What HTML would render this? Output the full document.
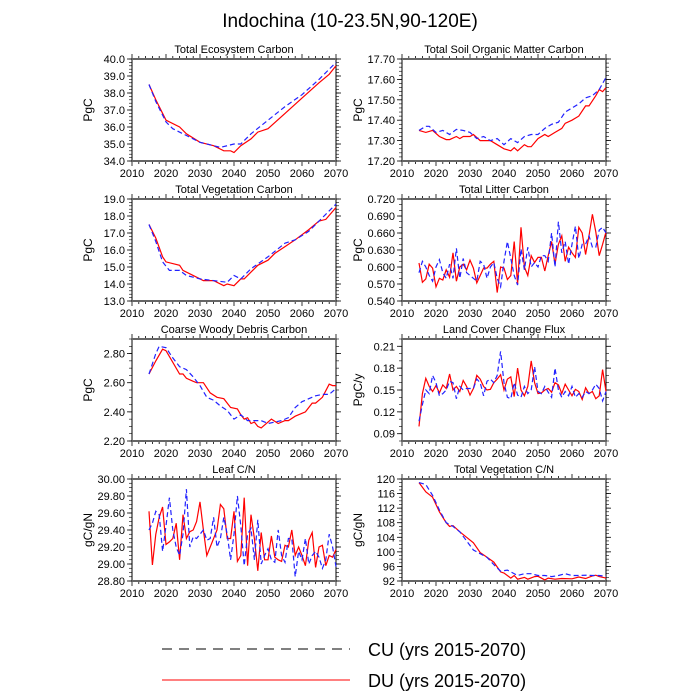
<!DOCTYPE html>
<html><head><meta charset="utf-8"><style>
html,body{margin:0;padding:0;background:#fff;}
svg{display:block;font-family:"Liberation Sans",sans-serif;}
</style></head><body>
<svg id="chart" width="700" height="700" viewBox="0 0 700 700" xmlns="http://www.w3.org/2000/svg">
<text x="350" y="27" font-size="19" text-anchor="middle">Indochina (10-23.5N,90-120E)</text>
<g>
<line x1="162" y1="649" x2="350" y2="649" stroke="#000" stroke-width="1" stroke-dasharray="10,7"/>
<text x="368" y="656" font-size="18">CU (yrs 2015-2070)</text>
<line x1="162" y1="680" x2="350" y2="680" stroke="#f00" stroke-width="1"/>
<text x="368" y="687" font-size="18">DU (yrs 2015-2070)</text>
</g>
</svg>
<script>
// ---- data ----
const yearsAll = []; for (let y = 2015; y <= 2070; y++) yearsAll.push(y);

const tecYearsDU = [2015,2017,2020,2024,2026,2030,2034,2037,2039,2040,2042,2045,2047,2050,2055,2060,2065,2068,2070];
const tecDU = [38.5,37.6,36.4,36.0,35.6,35.1,34.9,34.6,34.6,34.5,34.9,35.3,35.7,35.9,36.8,37.7,38.6,39.1,39.6];
const tecYearsCU = [2015,2017,2020,2022,2025,2030,2036,2040,2042,2045,2050,2055,2060,2065,2070];
const tecCU = [38.5,37.5,36.3,35.9,35.6,35.1,34.8,35.0,35.0,35.6,36.4,37.2,37.9,38.8,39.8];

const soilYearsDU = [2015,2017,2019,2021,2023,2024,2026,2027,2028,2030,2031,2033,2036,2038,2040,2042,2043,2044,2046,2047,2048,2050,2052,2053,2055,2057,2058,2060,2062,2064,2065,2067,2068,2069,2070];
const soilDU = [17.35,17.34,17.35,17.32,17.305,17.305,17.32,17.31,17.32,17.32,17.33,17.30,17.30,17.28,17.26,17.25,17.265,17.25,17.28,17.27,17.27,17.31,17.33,17.32,17.34,17.36,17.385,17.40,17.42,17.47,17.47,17.52,17.55,17.54,17.56];
const soilYearsCU = [2015,2017,2018,2020,2022,2024,2026,2028,2030,2032,2034,2036,2038,2040,2042,2044,2046,2048,2050,2052,2054,2056,2058,2060,2062,2064,2066,2068,2070];
const soilCU = [17.35,17.37,17.37,17.34,17.35,17.33,17.355,17.35,17.34,17.31,17.32,17.30,17.31,17.28,17.31,17.29,17.32,17.33,17.33,17.36,17.38,17.39,17.44,17.46,17.48,17.51,17.52,17.55,17.61];

const vegYearsDU = [2015,2017,2019,2020,2024,2025,2029,2031,2034,2037,2038,2040,2042,2043,2045,2047,2050,2052,2055,2058,2062,2065,2067,2070];
const vegDU = [17.5,16.7,15.6,15.3,15.1,14.8,14.4,14.2,14.2,13.9,14.0,13.9,14.3,14.3,14.7,15.1,15.4,15.8,16.2,16.6,17.2,17.7,17.8,18.5];
const vegYearsCU = [2015,2017,2019,2021,2024,2026,2030,2034,2038,2040,2042,2045,2050,2055,2058,2062,2066,2070];
const vegCU = [17.5,16.5,15.3,14.8,14.8,14.5,14.3,14.2,14.1,14.5,14.3,14.9,15.6,16.4,16.6,17.1,17.9,18.7];

const litterDU = [.607,.573,.579,.605,.598,.565,.580,.577,.595,.582,
 .625,.575,.600,.605,.595,.612,.598,.572,.585,.598,
 .598,.605,.610,.555,.600,.598,.578,.585,.645,.570,
 .670,.600,.585,.620,.608,.617,.617,.593,.620,.645,
 .605,.640,.655,.610,.635,.625,.617,.670,.660,.622,
 .655,.693,.662,.620,.640,.662];
const litterCU = [.590,.610,.600,.585,.575,.600,.613,.590,.580,.605,
 .580,.633,.580,.615,.590,.585,.580,.575,.610,.605,
 .580,.600,.608,.580,.565,.610,.645,.615,.585,.568,
 .632,.595,.635,.600,.608,.600,.620,.620,.610,.660,
 .600,.680,.625,.645,.605,.640,.672,.615,.640,.640,
 .655,.635,.635,.665,.670,.660];

const cwdYearsDU = [2015,2017,2019,2020,2022,2024,2025,2026,2028,2029,2031,2033,2035,2037,2039,2041,2042,2043,2044,2045,2046,2047,2048,2050,2051,2053,2055,2056,2058,2060,2061,2063,2064,2066,2068,2069,2070];
const cwdDU = [2.66,2.75,2.83,2.82,2.74,2.66,2.66,2.63,2.61,2.60,2.60,2.53,2.50,2.49,2.43,2.42,2.38,2.35,2.36,2.32,2.33,2.30,2.29,2.33,2.35,2.32,2.34,2.34,2.37,2.39,2.40,2.46,2.46,2.50,2.59,2.58,2.58];
const cwdYearsCU = [2015,2017,2018,2020,2022,2024,2026,2028,2030,2032,2034,2036,2038,2040,2042,2044,2046,2048,2050,2052,2054,2056,2058,2060,2062,2064,2066,2068,2070];
const cwdCU = [2.66,2.80,2.85,2.84,2.77,2.71,2.69,2.64,2.58,2.50,2.48,2.44,2.41,2.35,2.38,2.34,2.34,2.34,2.32,2.33,2.34,2.36,2.43,2.47,2.49,2.51,2.52,2.52,2.56];

const lccDU = [.100,.145,.166,.155,.148,.156,.146,.157,.152,.172,
 .150,.155,.148,.163,.155,.143,.152,.170,.165,.155,
 .150,.151,.160,.165,.171,.150,.165,.168,.141,.180,
 .150,.142,.155,.190,.160,.145,.146,.150,.152,.147,
 .160,.157,.145,.158,.150,.142,.151,.148,.137,.153,
 .145,.148,.138,.142,.178,.148];
const lccCU = [.107,.130,.150,.145,.170,.160,.142,.145,.150,.162,
 .160,.138,.155,.150,.152,.152,.152,.165,.160,.142,
 .162,.165,.160,.170,.203,.160,.140,.138,.160,.143,
 .140,.155,.145,.150,.182,.148,.145,.155,.147,.140,
 .180,.150,.140,.148,.142,.155,.140,.145,.140,.148,
 .145,.150,.158,.152,.135,.148];

const leafDU = [29.62,28.99,29.35,29.55,29.67,29.23,29.26,29.30,29.48,29.05,
 29.58,29.30,29.38,29.40,29.50,29.73,29.40,29.10,29.20,29.30,
 29.40,29.70,29.65,29.30,29.30,29.62,29.03,29.10,29.78,28.98,
 29.58,29.30,28.92,29.37,29.05,29.05,29.33,29.08,29.05,29.03,
 29.22,29.20,29.40,29.10,29.20,29.10,28.98,29.28,29.37,28.96,
 29.20,29.22,28.98,29.10,29.08,29.17];
const leafCU = [29.40,29.48,29.62,29.58,29.15,29.45,29.78,29.40,29.20,29.10,
 29.35,29.88,29.20,29.32,29.30,29.35,29.40,29.28,29.30,29.55,
 29.20,29.30,29.55,29.35,29.05,29.35,29.80,29.45,28.98,29.35,
 29.42,29.05,29.52,29.00,29.10,29.18,29.05,29.02,29.40,29.10,
 29.02,29.30,29.30,28.85,29.15,29.05,29.30,29.00,29.10,29.15,
 29.08,28.95,29.05,29.35,29.20,28.97];

const vcnYearsDU = [2015,2017,2019,2021,2023,2024,2025,2027,2029,2031,2033,2035,2037,2039,2040,2042,2043,2044,2046,2047,2049,2050,2052,2053,2055,2057,2060,2062,2064,2066,2067,2068,2070];
const vcnDU = [119,116.5,115,111,108,107,107.2,105.5,104,102.5,99.8,98.5,97.2,94.5,94.2,92.8,93.5,92.5,93,92.5,93.2,93.3,92.3,92.8,92.5,92.7,92.6,93.1,92.7,93.4,93.6,93.2,92.8];
const vcnYearsCU = [2015,2017,2019,2021,2023,2025,2027,2029,2031,2033,2035,2037,2039,2041,2042,2044,2046,2048,2050,2052,2054,2056,2058,2060,2062,2064,2066,2068,2070];
const vcnCU = [119,118.5,115.5,111.5,108,107,105.5,103,100.5,99.5,98.5,96.5,94.7,95,94.5,93.5,94,94,93.5,93.5,93.2,93.5,94,93.5,93.5,93.6,93.5,93.5,93.3];

const xTickLabels = ["2010","2020","2030","2040","2050","2060","2070"];

// ---- layout ----
const NS = "http://www.w3.org/2000/svg";
const svg = document.getElementById("chart");
const colX = [132, 402], W = 204, rowY = [59, 199, 339, 479], H = 102;

const panels = [
 {name:"total-ecosystem-carbon", title:"Total Ecosystem Carbon", unit:"PgC", col:0, row:0, ymin:34, ymax:40, tick0:34, step:1, dec:1, minor:5,
  cu:[tecYearsCU, tecCU], du:[tecYearsDU, tecDU]},
 {name:"total-soil-organic-matter-carbon", title:"Total Soil Organic Matter Carbon", unit:"PgC", col:1, row:0, ymin:17.2, ymax:17.7, tick0:17.2, step:0.1, dec:2, minor:5,
  cu:[soilYearsCU, soilCU], du:[soilYearsDU, soilDU]},
 {name:"total-vegetation-carbon", title:"Total Vegetation Carbon", unit:"PgC", col:0, row:1, ymin:13, ymax:19, tick0:13, step:1, dec:1, minor:5,
  cu:[vegYearsCU, vegCU], du:[vegYearsDU, vegDU]},
 {name:"total-litter-carbon", title:"Total Litter Carbon", unit:"PgC", col:1, row:1, ymin:0.54, ymax:0.72, tick0:0.54, step:0.03, dec:3, minor:3,
  cu:[yearsAll, litterCU], du:[yearsAll, litterDU]},
 {name:"coarse-woody-debris-carbon", title:"Coarse Woody Debris Carbon", unit:"PgC", col:0, row:2, ymin:2.2, ymax:2.9, tick0:2.2, step:0.2, dec:2, minor:4,
  cu:[cwdYearsCU, cwdCU], du:[cwdYearsDU, cwdDU]},
 {name:"land-cover-change-flux", title:"Land Cover Change Flux", unit:"PgC/y", col:1, row:2, ymin:0.08, ymax:0.22, tick0:0.09, step:0.03, dec:2, minor:3,
  cu:[yearsAll, lccCU], du:[yearsAll, lccDU]},
 {name:"leaf-cn", title:"Leaf C/N", unit:"gC/gN", col:0, row:3, ymin:28.8, ymax:30.0, tick0:28.8, step:0.2, dec:2, minor:4,
  cu:[yearsAll, leafCU], du:[yearsAll, leafDU]},
 {name:"total-vegetation-cn", title:"Total Vegetation C/N", unit:"gC/gN", col:1, row:3, ymin:92, ymax:120, tick0:92, step:4, dec:0, minor:4,
  cu:[vcnYearsCU, vcnCU], du:[vcnYearsDU, vcnDU]}
];

function el(tag, attrs, parent, text) {
  const e = document.createElementNS(NS, tag);
  for (const k in attrs) e.setAttribute(k, attrs[k]);
  if (text !== undefined) e.textContent = text;
  parent.appendChild(e);
  return e;
}

panels.forEach(p => {
  const x0 = colX[p.col], y0 = rowY[p.row];
  const xs = yr => x0 + (yr - 2010) / 60 * W;
  const ys = v => y0 + H - (v - p.ymin) / (p.ymax - p.ymin) * H;
  const g = el("g", {}, svg);
  
  

  const t = el("text", {x: x0 + W/2, y: y0 - 6, "font-size": 11, "text-anchor": "middle"}, g, p.title);
  
  

  const yl = el("text", {x: 0, y: 0, "font-size": 12, "text-anchor": "middle",
    transform: `translate(${x0 - 40},${y0 + H/2}) rotate(-90)`}, g, p.unit);
  
  

  // x ticks
  for (let yr = 2010; yr <= 2070; yr += 2) {
    const major = (yr % 10 === 0);
    const L = major ? 5 : 3, x = xs(yr);
    el("line", {x1: x, y1: y0 + H, x2: x, y2: y0 + H + L, stroke: "#000", "stroke-width": 0.8}, g);
    el("line", {x1: x, y1: y0, x2: x, y2: y0 - L, stroke: "#000", "stroke-width": 0.8}, g);
  }
  xTickLabels.forEach((lab, i) => {
    const tl = el("text", {x: xs(2010 + i*10), y: y0 + H + 16, "font-size": 11, "text-anchor": "middle"}, g, lab);
    
    
  });
  // y ticks
  const nMaj = Math.floor((p.ymax - p.tick0) / p.step + 1e-6);
  for (let i = 0; i <= nMaj; i++) {
    const v = p.tick0 + i * p.step, y = ys(v);
    el("line", {x1: x0, y1: y, x2: x0 - 5, y2: y, stroke: "#000", "stroke-width": 0.8}, g);
    el("line", {x1: x0 + W, y1: y, x2: x0 + W + 5, y2: y, stroke: "#000", "stroke-width": 0.8}, g);
    const tl = el("text", {x: x0 - 7, y: y + 4, "font-size": 11, "text-anchor": "end"}, g, v.toFixed(p.dec));
    
    
  }
  const mstep = p.step / p.minor;
  for (let v = p.ymin; v <= p.ymax + 1e-9; v += mstep) {
    const y = ys(v);
    el("line", {x1: x0, y1: y, x2: x0 - 3, y2: y, stroke: "#000", "stroke-width": 0.6}, g);
    el("line", {x1: x0 + W, y1: y, x2: x0 + W + 3, y2: y, stroke: "#000", "stroke-width": 0.6}, g);
  }
  // frame
  el("line", {x1: x0, y1: y0, x2: x0, y2: y0 + H, stroke: "#000", "stroke-width": 1}, g);
  el("line", {x1: x0 + W, y1: y0, x2: x0 + W, y2: y0 + H, stroke: "#000", "stroke-width": 1}, g);
  el("line", {x1: x0, y1: y0, x2: x0 + W, y2: y0, stroke: "#666", "stroke-width": 2}, g);
  el("line", {x1: x0, y1: y0 + H, x2: x0 + W, y2: y0 + H, stroke: "#666", "stroke-width": 2}, g);

  // series
  const mk = (ser, color, dash, nm) => {
    const pts = ser[0].map((yr, i) => xs(yr).toFixed(1) + "," + ys(ser[1][i]).toFixed(1)).join(" ");
    const pl = el("polyline", {points: pts, fill: "none", stroke: color, "stroke-width": 1.2}, g);
    if (dash) pl.setAttribute("stroke-dasharray", dash);
    
    
  };
  mk(p.du, "#ff0000", null, "du-line");
  mk(p.cu, "#2222ff", "5,3", "cu-line");
});
</script>
</body></html>
